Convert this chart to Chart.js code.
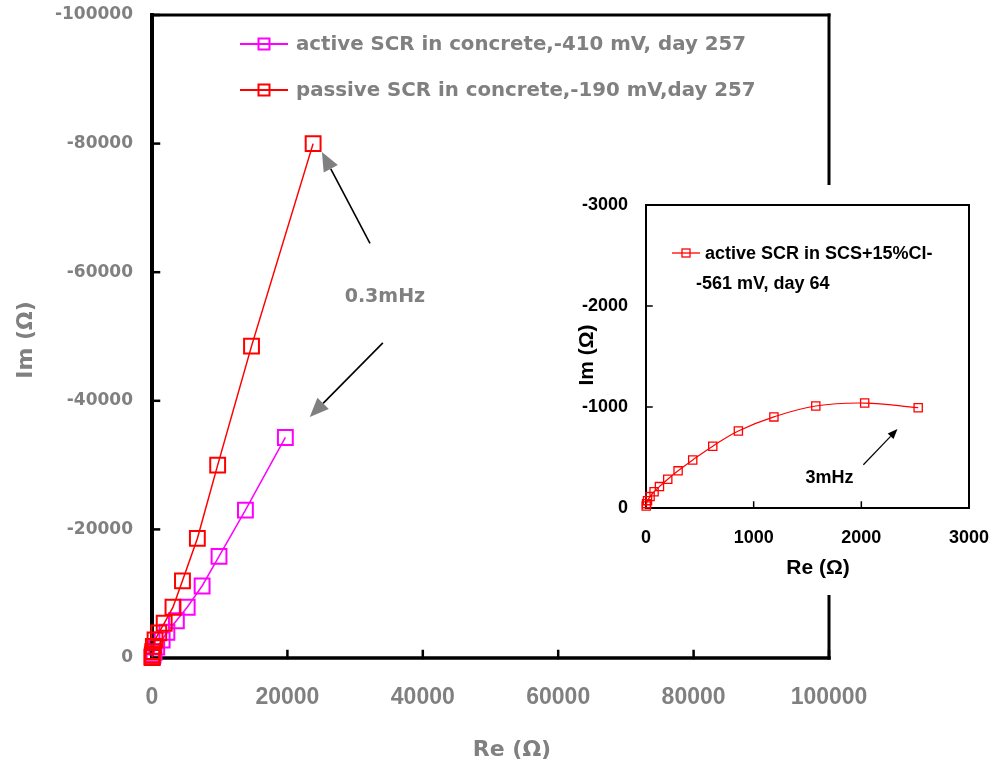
<!DOCTYPE html>
<html><head><meta charset="utf-8">
<script src="https://cdn.jsdelivr.net/npm/chart.js@4.4.0/dist/chart.umd.min.js"></script>
<style>
html,body{margin:0;padding:0;background:#fff;}
#wrap{position:relative;width:997px;height:770px;background:#fff;}
#main{position:absolute;left:0;top:0;}
#inset{position:absolute;left:555px;top:185px;}
</style></head><body>
<div id="wrap"><canvas id="main" width="997" height="770"></canvas><canvas id="inset" width="440" height="410"></canvas></div>
<script>
// ---- data ----
const activeLabel = 'active SCR in concrete,-410 mV, day 257';
const activeRe = [19700, 13800, 9900, 7400, 5200, 3600, 2200, 1500, 700, 300, 150, 50];
const activeIm = [-34300, -23000, -15800, -11200, -7900, -5800, -4000, -2800, -1700, -900, -450, -150];

const passiveLabel = 'passive SCR in concrete,-190 mV,day 257';
const passiveRe = [23800, 14700, 9700, 6700, 4500, 3100, 1800, 1000, 450, 200, 100, 50, 20, 8];
const passiveIm = [-80000, -48500, -30000, -18600, -12000, -7900, -5400, -3900, -2800, -1800, -1000, -500, -200, -80];

const insetLabel1 = 'active SCR in SCS+15%Cl-';
const insetLabel2 = '-561 mV, day 64';
const insetRe = [2528, 2031, 1577, 1188, 858, 620, 434, 298, 202, 125, 75, 38, 14, 5, 2];
const insetIm = [-993, -1039, -1010, -902, -763, -612, -476, -368, -285, -212, -161, -113, -73, -43, -20];

const mainXTickValues = [0, 20000, 40000, 60000, 80000, 100000];
const mainXTickLabels = ['0', '20000', '40000', '60000', '80000', '100000'];
const mainYTickValues = [-100000, -80000, -60000, -40000, -20000, 0];
const mainYTickLabels = ['-100000', '-80000', '-60000', '-40000', '-20000', '0'];
const insetXTickValues = [0, 1000, 2000, 3000];
const insetXTickLabels = ['0', '1000', '2000', '3000'];
const insetYTickValues = [-3000, -2000, -1000, 0];
const insetYTickLabels = ['-3000', '-2000', '-1000', '0'];

const mainXTitle = 'Re (Ω)';
const mainYTitle = 'Im (Ω)';
const insetXTitle = 'Re (Ω)';
const insetYTitle = 'Im (Ω)';
const mainNote = '0.3mHz';
const insetNote = '3mHz';

const GRAY = '#808080';
const MAG = '#FF00FF';
const RED = '#FF0000';

function pts(xs, ys) { return xs.map((x, i) => ({x: x, y: ys[i]})); }
function lookup(vals, labels) { return v => { const i = vals.indexOf(v); return i >= 0 ? labels[i] : ''; }; }
function noPad(s) { s.paddingTop = 0; s.paddingBottom = 0; s.paddingLeft = 0; s.paddingRight = 0; }

function drawArrow(ctx, x1, y1, x2, y2, headColor, headLen, headW, shaftColor, shaftW) {
  const ang = Math.atan2(y2 - y1, x2 - x1);
  const bx = x2 - headLen * Math.cos(ang), by = y2 - headLen * Math.sin(ang);
  ctx.save();
  ctx.strokeStyle = shaftColor; ctx.lineWidth = shaftW;
  ctx.beginPath(); ctx.moveTo(x1, y1); ctx.lineTo(bx, by); ctx.stroke();
  ctx.fillStyle = headColor;
  ctx.beginPath();
  ctx.moveTo(x2, y2);
  ctx.lineTo(bx + headW / 2 * Math.sin(ang), by - headW / 2 * Math.cos(ang));
  ctx.lineTo(bx - headW / 2 * Math.sin(ang), by + headW / 2 * Math.cos(ang));
  ctx.closePath(); ctx.fill();
  ctx.restore();
}

function squareMarker(ctx, x, y, side, color, lw) {
  ctx.save(); ctx.strokeStyle = color; ctx.lineWidth = lw;
  ctx.strokeRect(x - side / 2, y - side / 2, side, side); ctx.restore();
}

// frame + inward ticks
const framePlugin = {
  id: 'frame',
  beforeDatasetsDraw(chart, args, o) {
    const {ctx, chartArea: a, scales: {x, y}} = chart;
    ctx.save();
    ctx.strokeStyle = '#000';
    ctx.lineCap = 'square';
    ctx.lineWidth = o.tickW;
    o.xt.forEach(v => { const px = x.getPixelForValue(v); ctx.beginPath(); ctx.moveTo(px, a.bottom); ctx.lineTo(px, a.bottom - o.tickL); ctx.stroke(); });
    o.yt.forEach(v => { const py = y.getPixelForValue(v); ctx.beginPath(); ctx.moveTo(a.left, py); ctx.lineTo(a.left + o.tickL, py); ctx.stroke(); });
    ctx.lineWidth = o.topW; ctx.beginPath(); ctx.moveTo(a.left, a.top); ctx.lineTo(a.right, a.top); ctx.stroke();
    ctx.lineWidth = o.rightW; ctx.beginPath(); ctx.moveTo(a.right, a.top); ctx.lineTo(a.right, a.bottom); ctx.stroke();
    ctx.lineWidth = o.bottomW; ctx.beginPath(); ctx.moveTo(a.left, a.bottom); ctx.lineTo(a.right, a.bottom); ctx.stroke();
    ctx.lineWidth = o.leftW; ctx.beginPath(); ctx.moveTo(a.left, a.top); ctx.lineTo(a.left, a.bottom); ctx.stroke();
    ctx.restore();
  }
};

const bgPlugin = {
  id: 'bg',
  beforeDraw(chart) { const c = chart.ctx; c.save(); c.fillStyle = '#fff'; c.fillRect(0, 0, chart.width, chart.height); c.restore(); }
};

// titles, legend, notes
const decoPlugin = {
  id: 'deco',
  afterDraw(chart, args, o) {
    const {ctx, scales: {x, y}} = chart;
    ctx.save();
    ctx.fillStyle = o.titleColor; ctx.font = o.titleFont; ctx.textAlign = 'center'; ctx.textBaseline = 'middle';
    ctx.fillText(o.xTitle, o.xTitlePos[0], o.xTitlePos[1]);
    ctx.save(); ctx.translate(o.yTitlePos[0], o.yTitlePos[1]); ctx.rotate(-Math.PI / 2); ctx.fillText(o.yTitle, 0, 0); ctx.restore();
    ctx.font = o.legendFont; ctx.textAlign = 'left'; ctx.fillStyle = o.legendColor;
    o.legend.forEach(e => {
      if (e.color) {
        ctx.save(); ctx.strokeStyle = e.color; ctx.lineWidth = e.lw;
        ctx.beginPath(); ctx.moveTo(e.x1, e.y); ctx.lineTo(e.x2, e.y); ctx.stroke(); ctx.restore();
        squareMarker(ctx, (e.x1 + e.x2) / 2, e.y, e.side, e.color, e.mlw);
      }
      ctx.fillStyle = o.legendColor;
      ctx.fillText(e.text, e.tx, e.y + 1);
    });
    o.arrows.forEach(ar => drawArrow(ctx, x.getPixelForValue(ar.from[0]), y.getPixelForValue(ar.from[1]),
      x.getPixelForValue(ar.to[0]), y.getPixelForValue(ar.to[1]), ar.head, ar.hl, ar.hw, ar.shaft, ar.sw));
    ctx.font = o.noteFont; ctx.fillStyle = o.noteColor; ctx.textAlign = 'center';
    ctx.fillText(o.note, x.getPixelForValue(o.notePos[0]), y.getPixelForValue(o.notePos[1]));
    ctx.restore();
  }
};

Chart.register(framePlugin, decoPlugin, bgPlugin);

// ---- main chart ----
new Chart(document.getElementById('main'), {
  type: 'scatter',
  data: {
    datasets: [
      {label: activeLabel, data: pts(activeRe, activeIm), order: 2, showLine: true, borderColor: MAG, borderWidth: 1.5,
        pointStyle: 'rect', pointRadius: 10.5, pointHoverRadius: 10.5, pointBorderWidth: 2, pointBorderColor: MAG,
        pointBackgroundColor: 'rgba(0,0,0,0)', backgroundColor: 'rgba(0,0,0,0)', clip: false},
      {label: passiveLabel, data: pts(passiveRe, passiveIm), order: 1, showLine: true, borderColor: RED, borderWidth: 1.5,
        pointStyle: 'rect', pointRadius: 10.5, pointHoverRadius: 10.5, pointBorderWidth: 2, pointBorderColor: RED,
        pointBackgroundColor: 'rgba(0,0,0,0)', backgroundColor: 'rgba(0,0,0,0)', clip: false}
    ]
  },
  options: {
    responsive: false, animation: false, devicePixelRatio: 1,
    layout: {padding: {left: 0, top: 15, right: 168, bottom: 0}},
    plugins: {
      legend: {display: false}, tooltip: {enabled: false},
      frame: {xt: mainXTickValues, yt: mainYTickValues, tickL: 7, tickW: 2.5, leftW: 4, bottomW: 3.5, topW: 3, rightW: 3},
      deco: {
        titleColor: GRAY, titleFont: 'bold 22px "DejaVu Sans"',
        xTitle: mainXTitle, xTitlePos: [512, 750], yTitle: mainYTitle, yTitlePos: [26, 340],
        legendFont: 'bold 19.8px "DejaVu Sans"', legendColor: GRAY,
        legend: [
          {text: activeLabel, color: MAG, lw: 2, x1: 240, x2: 288, y: 44, side: 11, mlw: 2, tx: 296},
          {text: passiveLabel, color: RED, lw: 2, x1: 240, x2: 288, y: 90, side: 11, mlw: 2, tx: 296}
        ],
        arrows: [
          {from: [32200, -64500], to: [25100, -78700], head: GRAY, hl: 19, hw: 16, shaft: '#000', sw: 1.6},
          {from: [34100, -49000], to: [23300, -37500], head: GRAY, hl: 19, hw: 16, shaft: '#000', sw: 1.6}
        ],
        noteFont: 'bold 19px "DejaVu Sans"', noteColor: GRAY, note: mainNote, notePos: [34400, -56100]
      }
    },
    scales: {
      x: {type: 'linear', min: 0, max: 100000, offset: false,
        afterBuildTicks: s => { s.ticks = mainXTickValues.map(v => ({value: v})); },
        afterFit: s => { s.height = 112; noPad(s); },
        grid: {display: false, drawTicks: false}, border: {display: false},
        ticks: {color: GRAY, padding: 26, maxRotation: 0, autoSkip: false,
          font: {family: '"Liberation Sans", Arial', size: 23, weight: 'bold'},
          callback: lookup(mainXTickValues, mainXTickLabels)}},
      y: {type: 'linear', min: -100000, max: 0, reverse: true,
        afterBuildTicks: s => { s.ticks = mainYTickValues.map(v => ({value: v})); },
        afterFit: s => { s.width = 152; noPad(s); },
        grid: {display: false, drawTicks: false}, border: {display: false},
        ticks: {color: GRAY, padding: 19, autoSkip: false,
          font: {family: '"DejaVu Sans"', size: 17, weight: 'bold'},
          callback: lookup(mainYTickValues, mainYTickLabels)}}
    }
  }
});

// ---- inset chart ----
new Chart(document.getElementById('inset'), {
  type: 'scatter',
  data: {
    datasets: [
      {label: insetLabel1 + ' ' + insetLabel2, data: pts(insetRe, insetIm), showLine: true, tension: 0.4, borderColor: RED, borderWidth: 1.2,
        pointStyle: 'rect', pointRadius: 5.8, pointHoverRadius: 5.8, pointBorderWidth: 1.3, pointBorderColor: RED,
        pointBackgroundColor: 'rgba(0,0,0,0)', backgroundColor: 'rgba(0,0,0,0)', clip: false}
    ]
  },
  options: {
    responsive: false, animation: false, devicePixelRatio: 1,
    layout: {padding: {left: 0, top: 20, right: 26, bottom: 0}},
    plugins: {
      legend: {display: false}, tooltip: {enabled: false},
      frame: {xt: insetXTickValues, yt: insetYTickValues, tickL: 6, tickW: 1.5, leftW: 2, bottomW: 2, topW: 2, rightW: 2},
      deco: {
        titleColor: '#000', titleFont: 'bold 21px "Liberation Sans", Arial',
        xTitle: insetXTitle, xTitlePos: [263, 383], yTitle: insetYTitle, yTitlePos: [32, 170],
        legendFont: 'bold 18px "Liberation Sans", Arial', legendColor: '#000',
        legend: [
          {text: insetLabel1, color: RED, lw: 1.3, x1: 117, x2: 145, y: 68, side: 8, mlw: 1.3, tx: 150},
          {text: insetLabel2, tx: 141, y: 98}
        ],
        arrows: [
          {from: [2019, -428], to: [2336, -781], head: '#000', hl: 10, hw: 8, shaft: '#000', sw: 1.2}
        ],
        noteFont: 'bold 18px "Liberation Sans", Arial', noteColor: '#000', note: insetNote, notePos: [1704, -299]
      }
    },
    scales: {
      x: {type: 'linear', min: 0, max: 3000, offset: false,
        afterBuildTicks: s => { s.ticks = insetXTickValues.map(v => ({value: v})); },
        afterFit: s => { s.height = 87; noPad(s); },
        grid: {display: false, drawTicks: false}, border: {display: false},
        ticks: {color: '#000', padding: 19, maxRotation: 0, autoSkip: false,
          font: {family: '"Liberation Sans", Arial', size: 18, weight: 'bold'},
          callback: lookup(insetXTickValues, insetXTickLabels)}},
      y: {type: 'linear', min: -3000, max: 0, reverse: true,
        afterBuildTicks: s => { s.ticks = insetYTickValues.map(v => ({value: v})); },
        afterFit: s => { s.width = 91; noPad(s); },
        grid: {display: false, drawTicks: false}, border: {display: false},
        ticks: {color: '#000', padding: 18, autoSkip: false,
          font: {family: '"Liberation Sans", Arial', size: 18, weight: 'bold'},
          callback: lookup(insetYTickValues, insetYTickLabels)}}
    }
  }
});
</script>
</body></html>
